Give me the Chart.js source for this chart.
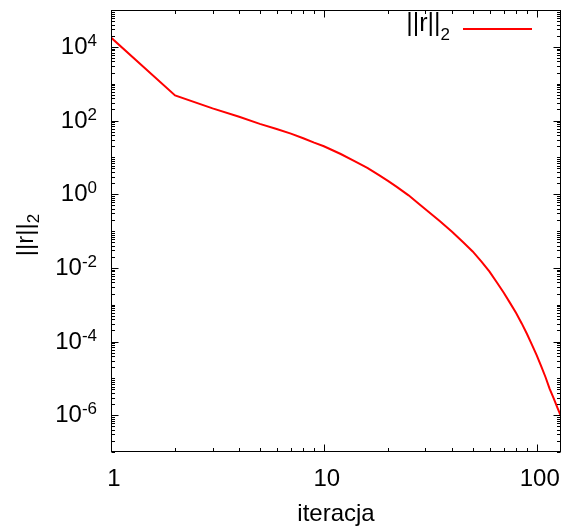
<!DOCTYPE html>
<html>
<head>
<meta charset="utf-8">
<title>||r||2 vs iteracja</title>
<script src="https://cdn.jsdelivr.net/npm/chart.js@4/dist/chart.umd.min.js"></script>
<style>
  html, body { margin: 0; padding: 0; background: #fff; }
  #wrap { width: 564px; height: 530px; }
</style>
</head>
<body>
<div id="wrap"><canvas id="residChart" width="564" height="530"></canvas></div>
<script>
// values (log-log)
const iterations = [1, 2, 3, 4, 5, 6, 7, 8, 9, 10, 12, 14, 16, 18, 20, 22, 25, 28, 31, 35, 40, 45, 50, 55, 60, 65, 70, 75, 80, 85, 90, 95, 100, 105, 110, 115, 120, 125, 130];
const residual = [1.78e4, 480, 214, 126, 81, 59, 44, 33, 25, 20, 12.3, 7.8, 5.2, 3.4, 2.3, 1.58, 0.93, 0.54, 0.335, 0.186, 0.095, 0.050, 0.0279, 0.0148, 7.9e-3, 4.0e-3, 2.1e-3, 1.1e-3, 5.9e-4, 3.1e-4, 1.6e-4, 8.1e-5, 4.2e-5, 2.1e-5, 1.07e-5, 5.2e-6, 2.9e-6, 1.6e-6, 9.3e-7];

const xTickValues = [1, 10, 100];
const xTickLabels = ["1", "10", "100"];
const yTickExps = [4, 2, 0, -2, -4, -6];

const X_MIN = 1, X_MAX = 130;
const Y_MIN = 1e-7, Y_MAX = 1e5;

const FONT = '"Liberation Sans", Arial, Helvetica, sans-serif';
const RED = "#ff0000";

// gnuplot-like frame: box, inward mirrored ticks, superscript labels, titles, key
const gnuplotFrame = {
    id: "gnuplotFrame",
    afterDraw(chart) {
        const ctx = chart.ctx;
        const a = chart.chartArea;
        const x = chart.scales.x;
        const y = chart.scales.y;
        const L = Math.round(a.left) + 0.5, R = Math.round(a.right) - 0.5;
        const T = Math.round(a.top) + 0.5, B = Math.round(a.bottom) - 0.5;

        ctx.save();
        ctx.strokeStyle = "#000";
        ctx.lineWidth = 1;
        ctx.strokeRect(L, T, R - L, B - T);

        // x ticks
        const xTick = (v, len) => {
            const px = Math.round(x.getPixelForValue(v)) + 0.5;
            ctx.beginPath();
            ctx.moveTo(px, B); ctx.lineTo(px, B - len);
            ctx.moveTo(px, T); ctx.lineTo(px, T + len);
            ctx.stroke();
        };
        xTickValues.forEach(d => {
            xTick(d, 7);
            for (let m = 2; m <= 9; m++) {
                if (m * d < X_MAX) xTick(m * d, 3.5);
            }
        });

        // y ticks
        const yTick = (v, len) => {
            const py = Math.round(y.getPixelForValue(v)) + 0.5;
            ctx.beginPath();
            ctx.moveTo(L, py); ctx.lineTo(L + len, py);
            ctx.moveTo(R, py); ctx.lineTo(R - len, py);
            ctx.stroke();
        };
        for (let e = -7; e <= 5; e++) {
            const d = Math.pow(10, e);
            if (e < 5) {
                for (let m = 2; m <= 9; m++) yTick(m * d, 3.5);
            }
            yTick(d, yTickExps.includes(e) ? 7 : 3.5);
        }

        ctx.fillStyle = "#000";
        ctx.textBaseline = "alphabetic";

        // x labels
        ctx.font = "24px " + FONT;
        ctx.textAlign = "center";
        xTickValues.forEach((v, i) => {
            ctx.fillText(xTickLabels[i], x.getPixelForValue(v) + 3, 486);
        });

        // y labels 10^n
        yTickExps.forEach(e => {
            const py = y.getPixelForValue(Math.pow(10, e));
            const exp = String(e);
            ctx.font = "17px " + FONT;
            const we = ctx.measureText(exp).width;
            ctx.textAlign = "left";
            ctx.fillText(exp, 97 - we, py - 1);
            ctx.font = "24px " + FONT;
            ctx.textAlign = "right";
            ctx.fillText("10", 97 - we, py + 7);
        });

        // x title
        ctx.font = "24px " + FONT;
        ctx.textAlign = "center";
        ctx.fillText("iteracja", (a.left + a.right) / 2, 521);

        // y title (rotated) ||r||_2
        ctx.save();
        ctx.translate(33, (a.top + a.bottom) / 2 + 4);
        ctx.rotate(-Math.PI / 2);
        ctx.font = "24px " + FONT;
        const wMain = ctx.measureText("||r||").width;
        ctx.font = "17px " + FONT;
        const wSub = ctx.measureText("2").width;
        const start = -(wMain + wSub) / 2;
        ctx.textAlign = "left";
        ctx.font = "24px " + FONT;
        ctx.fillText("||r||", start, 0);
        ctx.font = "17px " + FONT;
        ctx.fillText("2", start + wMain, 6);
        ctx.restore();

        // key
        ctx.font = "17px " + FONT;
        const ks = ctx.measureText("2").width;
        ctx.textAlign = "right";
        ctx.fillText("2", 450, 40);
        ctx.font = "25px " + FONT;
        ctx.fillText("||r||", 450 - ks, 31);
        ctx.strokeStyle = RED;
        ctx.lineWidth = 2;
        ctx.beginPath();
        ctx.moveTo(463, 29);
        ctx.lineTo(532, 29);
        ctx.stroke();

        ctx.restore();
    }
};

new Chart(document.getElementById("residChart"), {
    type: "line",
    data: {
        datasets: [{
            label: "||r||2",
            data: iterations.map((it, i) => ({ x: it, y: residual[i] })),
            borderColor: RED,
            borderWidth: 2,
            pointRadius: 0,
            tension: 0,
            fill: false
        }]
    },
    options: {
        responsive: false,
        animation: false,
        devicePixelRatio: 1,
        layout: { padding: { left: 111, top: 10, right: 3, bottom: 78 } },
        plugins: {
            legend: { display: false },
            tooltip: { enabled: false }
        },
        scales: {
            x: {
                type: "logarithmic",
                min: X_MIN,
                max: X_MAX,
                grid: { display: false, drawTicks: false },
                border: { display: false },
                ticks: { display: false }
            },
            y: {
                type: "logarithmic",
                min: Y_MIN,
                max: Y_MAX,
                grid: { display: false, drawTicks: false },
                border: { display: false },
                ticks: { display: false }
            }
        }
    },
    plugins: [gnuplotFrame]
});
</script>
</body>
</html>
